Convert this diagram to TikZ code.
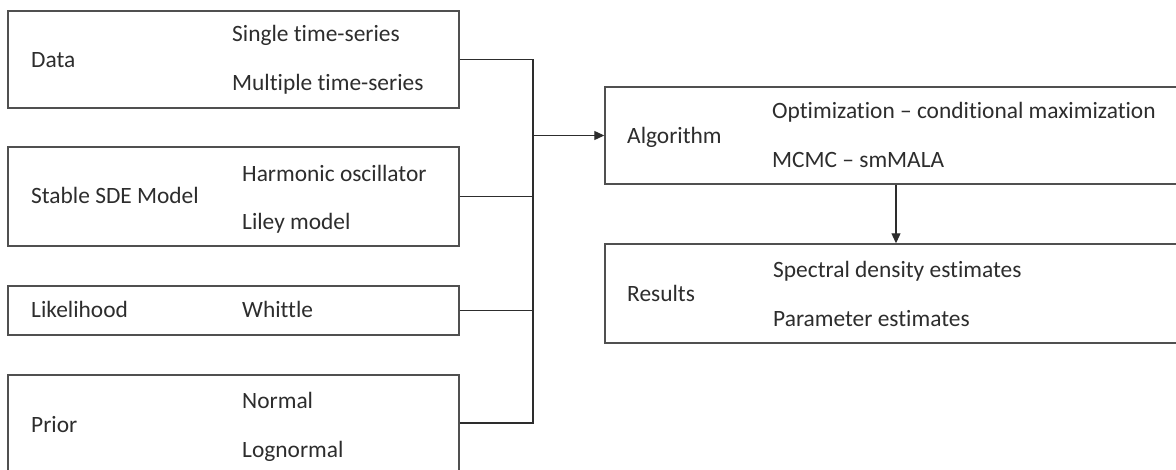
\documentclass[tikz,border=0pt]{standalone}
\usepackage{fontspec}
\setmainfont{Carlito}[Ligatures=NoCommon]
\usepackage{xcolor}
\usepackage{tikz}
\usetikzlibrary{arrows.meta, positioning}
\definecolor{framegray}{RGB}{80, 80, 80}
\definecolor{inkgray}{RGB}{45, 45, 45}

\tikzset{
  panel/.style={draw=framegray, line width=1.4pt, minimum width=451pt, inner sep=0pt},
  sidepanel/.style={draw=framegray, line width=1.4pt, minimum width=600pt, minimum height=97pt, inner sep=0pt},
  label/.style={anchor=base west, inner sep=0pt, text=inkgray, font=\fontsize{23.4}{28}\selectfont},
  link/.style={draw=inkgray, line width=1.1pt},
  flow/.style={link, -{Triangle[length=10pt, width=9pt]}}
}

\begin{document}
\begin{tikzpicture}[x=1pt, y=-1pt]
  \clip (0,0) rectangle (1176,470);
  \fill[white] (0,0) rectangle (1176,470);

  \node[panel, minimum height=97pt] (data) at (233.5,59.5) {};
  \node[panel, minimum height=99pt] (sde) at (233.5,196.5) {};
  \node[panel, minimum height=49pt] (lik) at (233.5,310.5) {};
  \node[panel, minimum height=96pt] (prior) at (233.5,423) {};

  \node[sidepanel] (alg) at (905,135.5) {};
  \node[sidepanel, minimum height=99pt] (res) at (905,293.5) {};

  \node[label] (data-name) at (31,68) {Data};
  \node[label] (data-one) at (232,42) {Single time-series};
  \node[label] (data-many) at (232,91) {Multiple time-series};

  \node[label] (sde-name) at (31,204) {Stable SDE Model};
  \node[label] (sde-ho) at (242,182) {Harmonic oscillator};
  \node[label] (sde-liley) at (242,230) {Liley model};

  \node[label] (lik-name) at (31,318) {Likelihood};
  \node[label] (lik-whittle) at (242,318) {Whittle};

  \node[label] (prior-name) at (31,432) {Prior};
  \node[label] (prior-normal) at (242,408) {Normal};
  \node[label] (prior-lognormal) at (242,457) {Lognormal};

  \node[label] (alg-name) at (627,144) {Algorithm};
  \node[label] (alg-opt) at (772,119) {Optimization – conditional maximization};
  \node[label] (alg-mcmc) at (772,168) {MCMC – smMALA};

  \node[label] (res-name) at (627,302) {Results};
  \node[label] (res-sd) at (773,278) {Spectral density estimates};
  \node[label] (res-par) at (773,327) {Parameter estimates};

  \coordinate (bus) at (533,0);
  \coordinate (drop) at (896,0);

  \draw[link] (data.east) -| (bus |- prior.east) -- (prior.east);
  \draw[link] (sde.east) -- (sde.east -| bus);
  \draw[link] (lik.east) -- (lik.east -| bus);
  \draw[flow] (alg.west -| bus) -- (alg.west);
  \draw[flow] (alg.south -| drop) -- (res.north -| drop);
\end{tikzpicture}
\end{document}
